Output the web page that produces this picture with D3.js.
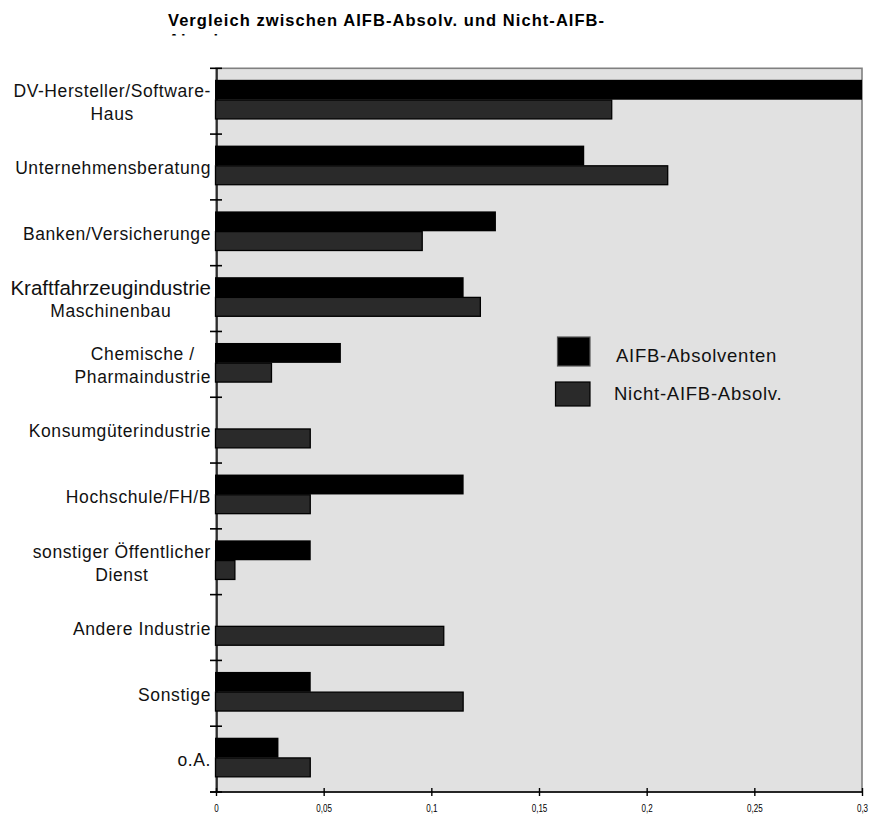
<!DOCTYPE html>
<html>
<head>
<meta charset="utf-8">
<script src="https://cdn.jsdelivr.net/npm/d3@7"></script>
<style>
  html, body { margin: 0; padding: 0; background: #ffffff; }
  svg { display: block; font-family: "Liberation Sans", Arial, sans-serif; }
</style>
</head>
<body>
<svg id="chart" width="869" height="816"></svg>
<script>
// Branchen (top to bottom); "\n" marks a line break in the label
const categories = [
  "DV-Hersteller/Software-\nHaus",
  "Unternehmensberatung",
  "Banken/Versicherunge",
  "Kraftfahrzeugindustrie\nMaschinenbau",
  "Chemische /\nPharmaindustrie",
  "Konsumgüterindustrie",
  "Hochschule/FH/B",
  "sonstiger Öffentlicher\nDienst",
  "Andere Industrie",
  "Sonstige",
  "o.A."
];
const seriesNames = ["AIFB-Absolventen", "Nicht-AIFB-Absolv."];
const aifbValues  = [0.300, 0.171, 0.130, 0.115, 0.058, 0.000, 0.115, 0.044, 0.000, 0.044, 0.029];
const otherValues = [0.184, 0.210, 0.096, 0.123, 0.026, 0.044, 0.044, 0.009, 0.106, 0.115, 0.044];
const xTicks = [0, 0.05, 0.1, 0.15, 0.2, 0.25, 0.3];
const titleLines = ["Vergleich zwischen AIFB-Absolv. und Nicht-AIFB-", "Absolv."];

const seriesColors = ["#000000", "#2a2a2a"];

const svg = d3.select("#chart");
const plot = { left: 216, right: 862, top: 68.3, bottom: 792 };

const x = d3.scaleLinear().domain([0, 0.3]).range([plot.left, plot.right]);
const y0 = d3.scaleBand().domain(categories).range([plot.top, plot.bottom]).padding(0);
const y1 = d3.scaleBand().domain(seriesNames)
  .range([y0.bandwidth() * 0.175, y0.bandwidth() * 0.78]).padding(0);

const rows = categories.map((c, i) => ({
  category: c,
  values: [
    { series: seriesNames[0], value: aifbValues[i] },
    { series: seriesNames[1], value: otherValues[i] }
  ]
}));

// Title (second line is cut off by the chart frame, only its top edge shows)
svg.append("defs").append("clipPath").attr("id", "titleClip")
  .append("rect").attr("x", 0).attr("y", 0).attr("width", 869).attr("height", 35.5);
const title = svg.append("g").attr("clip-path", "url(#titleClip)");
titleLines.forEach((t, i) => {
  title.append("text")
    .attr("x", 168).attr("y", 26 + i * 19.5)
    .attr("font-size", 16.5).attr("font-weight", "bold")
    .attr("letter-spacing", 1.05)
    .attr("fill", "#000")
    .text(t);
});

// Plot area background
svg.append("rect")
  .attr("x", plot.left).attr("y", plot.top)
  .attr("width", plot.right - plot.left).attr("height", plot.bottom - plot.top)
  .attr("fill", "#e1e1e1").attr("stroke", "#808080").attr("stroke-width", 1.6);

// Left category axis line and ticks at band edges
svg.append("line")
  .attr("x1", plot.left + 1).attr("x2", plot.left + 1)
  .attr("y1", plot.top).attr("y2", plot.bottom)
  .attr("stroke", "#000").attr("stroke-width", 1.4);
const bandEdges = categories.map(c => y0(c)).concat([plot.bottom]);
svg.append("g").selectAll("line").data(bandEdges).join("line")
  .attr("x1", plot.left - 6).attr("x2", plot.left + 6)
  .attr("y1", d => d).attr("y2", d => d)
  .attr("stroke", "#000").attr("stroke-width", 1.6);

// Bars
const groups = svg.append("g").selectAll("g").data(rows).join("g")
  .attr("transform", d => `translate(0,${y0(d.category)})`);
groups.selectAll("rect").data(d => d.values.filter(v => v.value > 0)).join("rect")
  .attr("x", d => d.series === seriesNames[0] ? x(0) - 1 : x(0) - 0.5)
  .attr("y", d => d.series === seriesNames[0] ? y1(d.series) : y1(d.series) + 0.3)
  .attr("width", d => d.series === seriesNames[0] ? x(d.value) - x(0) + 1 : x(d.value) - x(0))
  .attr("height", d => d.series === seriesNames[0] ? y1.bandwidth() : y1.bandwidth() - 1)
  .attr("fill", d => seriesColors[seriesNames.indexOf(d.series)])
  .attr("stroke", d => d.series === seriesNames[0] ? "none" : "#000")
  .attr("stroke-width", 1.3);

// Bottom value axis
const xAxis = d3.axisBottom(x).tickValues(xTicks).tickSize(0)
  .tickFormat(d => d3.format("~g")(d).replace(".", ","));
const xg = svg.append("g").attr("transform", `translate(0,${plot.bottom})`).call(xAxis);
xg.select(".domain").remove();
xg.append("line").attr("x1", plot.left - 6).attr("x2", plot.right)
  .attr("stroke", "#000").attr("stroke-width", 1.6);
xg.selectAll(".tick").append("line")
  .attr("y1", -4).attr("y2", 4).attr("stroke", "#000").attr("stroke-width", 1.4);
xg.selectAll(".tick text")
  .attr("y", 0).attr("dy", 0)
  .attr("font-family", "'Liberation Sans', Arial, sans-serif")
  .attr("font-size", 11.5).attr("fill", "#000")
  .attr("transform", "translate(0,20) scale(0.7,1)");

// Category labels: multi-line blocks centred on the widest line, right-aligned to the axis
const labelRight = 211;
const lineGap = 23;
const labelG = svg.append("g");
categories.forEach(c => {
  const lines = c.split("\n");
  const cy = y0(c) + y0.bandwidth() / 2 + 1;
  const texts = lines.map((ln, i) => {
    const big = ln === "Kraftfahrzeugindustrie";
    return labelG.append("text")
      .attr("y", cy + (i - (lines.length - 1) / 2) * lineGap)
      .attr("dy", "0.36em")
      .attr("font-size", big ? 20.5 : 17.5)
      .attr("letter-spacing", big ? 0 : 0.6)
      .attr("fill", "#111")
      .attr("text-anchor", "middle")
      .text(ln);
  });
  const widths = texts.map(t => t.node().getComputedTextLength());
  const maxW = d3.max(widths);
  const centerX = labelRight - maxW / 2;
  texts.forEach(t => t.attr("x", centerX));
});

// Legend
const legendItems = [
  { name: seriesNames[0], color: seriesColors[0], box: [557.5, 337, 32.5, 29], stroke: "#555", tx: 616, ty: 355 },
  { name: seriesNames[1], color: seriesColors[1], box: [555.5, 382, 34.5, 24], stroke: "#000", tx: 614, ty: 393 }
];
const lg = svg.append("g");
legendItems.forEach(it => {
  lg.append("rect")
    .attr("x", it.box[0]).attr("y", it.box[1])
    .attr("width", it.box[2]).attr("height", it.box[3])
    .attr("fill", it.color).attr("stroke", it.stroke).attr("stroke-width", 1.2);
  lg.append("text")
    .attr("x", it.tx).attr("y", it.ty).attr("dy", "0.36em")
    .attr("font-size", 18.5).attr("letter-spacing", 0.75)
    .attr("fill", "#111")
    .text(it.name);
});
</script>
</body>
</html>
